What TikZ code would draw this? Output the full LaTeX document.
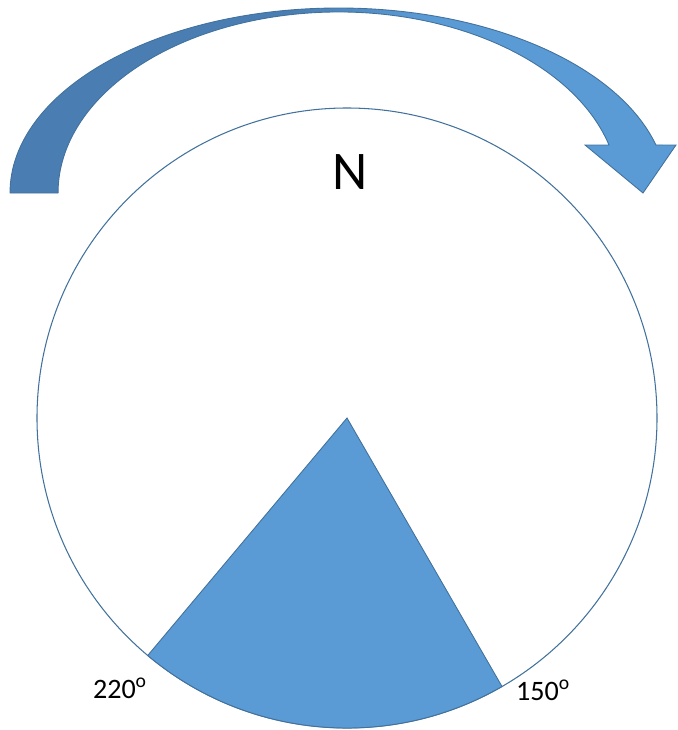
\documentclass[tikz,border=0pt]{standalone}
\usepackage{fontspec}
\setmainfont{Carlito}
\definecolor{sectorblue}{HTML}{5B9BD5}
\definecolor{edgeblue}{HTML}{41719C}
\definecolor{arrowdark}{HTML}{4A7EB2}
\pgfdeclarehorizontalshading{arrowshade}{100bp}{color(0bp)=(arrowdark); color(46bp)=(arrowdark);
  color(56bp)=(sectorblue); color(100bp)=(sectorblue)}
\begin{document}
\begin{tikzpicture}[x=0.02cm, y=0.02cm, every node/.style={font=\fontsize{16}{19}\selectfont}]
\useasboundingbox (0,0) rectangle (677,-730);
% compass circle
\draw[edgeblue, line width=0.6pt] (347,-418) circle[radius=310];
% sector between 150 and 220 degrees
\fill[sectorblue, draw=edgeblue, line width=0.5pt] (347,-418) -- ++(-130:310)
  arc[start angle=-130, end angle=-60, radius=310] -- cycle;
% curved arrow, clockwise
\shade[shading=arrowshade, draw=edgeblue, line width=0.5pt]
  (10,-193) arc[start angle=180, end angle=15.04, x radius=328.6, y radius=185]
  -- (676,-145) -- (643,-193) -- (585,-145) -- (609,-145)
  arc[start angle=15.38, end angle=180, x radius=280.5, y radius=181] -- cycle;
% labels
\node[font=\fontsize{31}{36}\selectfont] (north) at (350,-172) {N};
\node (deg220) at (120,-688) {220\textsuperscript{o}};
\node (deg150) at (543,-690) {150\textsuperscript{o}};
\end{tikzpicture}
\end{document}
